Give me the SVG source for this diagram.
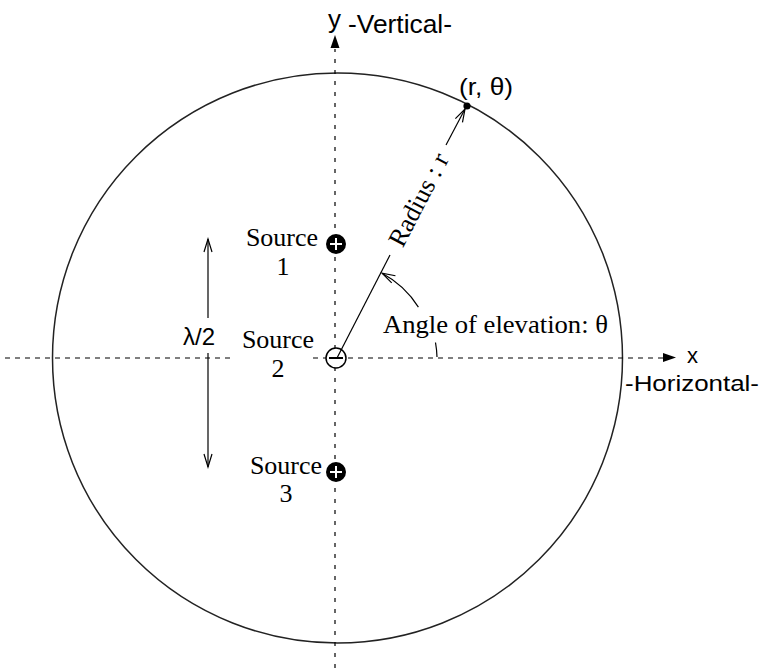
<svg xmlns="http://www.w3.org/2000/svg" width="762" height="668" viewBox="0 0 762 668">
<style>
.serif{font-family:"Liberation Serif","Times New Roman",serif;font-size:26px;fill:#000}
.sans{font-family:"Liberation Sans",Arial,sans-serif;fill:#000}
.dashv{stroke:#000;stroke-width:1.2;stroke-dasharray:4 7;fill:none}
.dashh{stroke:#000;stroke-width:1.2;stroke-dasharray:5 5;fill:none}
.thin{stroke:#000;stroke-width:1.2;fill:none}
</style>
<defs>
<marker id="open" viewBox="-14 -6 16 12" markerWidth="16" markerHeight="12" refX="0" refY="0" orient="auto-start-reverse" markerUnits="userSpaceOnUse">
<path d="M-13,-4 L0,0 L-13,4" fill="none" stroke="#000" stroke-width="1.2"/>
</marker>
</defs>
<rect width="762" height="668" fill="#fff"/>

<g id="circle">
<circle cx="337.5" cy="358" r="285" fill="none" stroke="#222" stroke-width="1.5"/>
</g>

<g id="axes">
<path class="dashv" d="M335,668 L335,49"/>
<path class="dashh" d="M5,358 L233,358"/>
<path class="dashh" d="M313,358 L326,358"/>
<path class="dashh" d="M348,358 L663,358"/>
<path d="M335,35 L330.5,48 L339.5,48 Z" fill="#000"/>
<path d="M676,357.5 L663,353 L663,362 Z" fill="#000"/>
<text class="sans" x="328" y="28" font-size="26">y</text>
<text class="sans" x="348" y="33" font-size="26" textLength="104" lengthAdjust="spacingAndGlyphs">-Vertical-</text>
<text class="sans" x="687" y="363" font-size="22">x</text>
<text class="sans" x="625" y="391" font-size="22" textLength="134" lengthAdjust="spacingAndGlyphs">-Horizontal-</text>
</g>

<g id="source1">
<circle cx="336" cy="244" r="10" fill="#000"/>
<path d="M330,244 L342,244 M336,238 L336,250" stroke="#fff" stroke-width="2"/>
<text class="serif" x="282" y="246" text-anchor="middle">Source</text>
<text class="serif" x="283" y="275" text-anchor="middle">1</text>
</g>

<g id="source2">
<circle cx="336" cy="358" r="10" fill="#fff" stroke="#000" stroke-width="1.5"/>
<path d="M329,358 L343,358" stroke="#000" stroke-width="2"/>
<text class="serif" x="278" y="348" text-anchor="middle">Source</text>
<text class="serif" x="278" y="377" text-anchor="middle">2</text>
</g>

<g id="source3">
<circle cx="336" cy="472" r="10" fill="#000"/>
<path d="M330,472 L342,472 M336,466 L336,478" stroke="#fff" stroke-width="2"/>
<text class="serif" x="286" y="474" text-anchor="middle">Source</text>
<text class="serif" x="286" y="502" text-anchor="middle">3</text>
</g>

<g id="point">
<circle cx="467" cy="106" r="3.6" fill="#000"/>
<text class="sans" x="459" y="95" font-size="24" textLength="54" lengthAdjust="spacingAndGlyphs">(r, θ)</text>
</g>

<g id="labels">
<text class="sans" x="215" y="345" font-size="24" text-anchor="end">λ/2</text>
<text class="serif" x="383" y="333" textLength="225" lengthAdjust="spacingAndGlyphs">Angle of elevation: θ</text>
<text class="serif" transform="translate(419,200) rotate(-62.45)" x="0" y="8" text-anchor="middle">Radius : r</text>
</g>

<g id="connectors">
<path class="thin" d="M208,318 L208,239" marker-end="url(#open)"/>
<path class="thin" d="M208,353 L208,467" marker-end="url(#open)"/>
<path class="thin" d="M337,358 L390,255"/>
<path class="thin" d="M446,145 L465,109" marker-end="url(#open)"/>
<path class="thin" d="M418.4,307.1 A96,96 0 0,0 382.1,273.2" marker-end="url(#open)"/>
<path class="thin" d="M437,357 A100,100 0 0,0 435.5,342.5"/>
</g>
</svg>
